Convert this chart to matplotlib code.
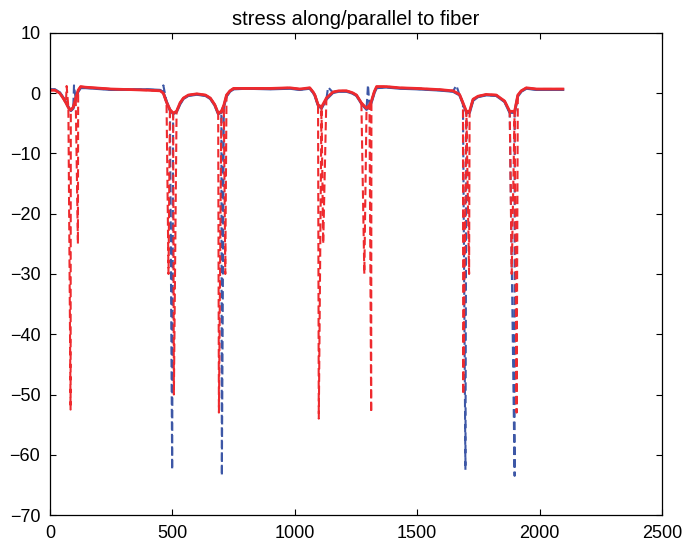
import numpy as np
import matplotlib
matplotlib.use("Agg")
import matplotlib.pyplot as plt

# solid curves (shared x positions)
x_solid = [0, 20, 40, 55, 65, 75, 85, 95, 105, 115, 125, 145, 180, 250, 330, 400,
           450, 463, 476, 490, 503, 517, 531, 545, 565, 600, 635, 655, 673, 687,
           700, 710, 721, 735, 750, 800, 900, 980, 1020, 1061, 1075, 1082, 1095,
           1109, 1129, 1156, 1180, 1211, 1235, 1252, 1272, 1293, 1305, 1313, 1325,
           1334, 1374, 1429, 1500, 1592, 1646, 1673, 1687, 1701, 1714, 1728, 1748,
           1782, 1823, 1857, 1878, 1898, 1911, 1925, 1946, 1987, 2040, 2095]
red_solid = [0.5, 0.5, 0.0, -0.9, -1.6, -2.4, -2.8, -2.3, -0.8, 0.5, 1.1, 1.0, 0.9,
             0.7, 0.6, 0.5, 0.4, 0.0, -1.5, -2.7, -3.3, -3.0, -1.6, -0.8, -0.3,
             -0.1, -0.3, -0.8, -1.9, -3.3, -3.0, -2.0, -0.3, 0.4, 0.8, 0.8, 0.8,
             0.9, 0.7, 0.9, 0.2, -0.3, -1.9, -2.3, -0.8, 0.2, 0.4, 0.4, 0.1, -0.3,
             -1.6, -2.5, -2.0, -1.3, 0.3, 1.1, 1.1, 0.9, 0.8, 0.6, 0.4, -0.2, -1.6,
             -3.0, -3.0, -1.0, -0.5, -0.2, -0.3, -1.3, -3.0, -3.0, -0.3, 0.4, 0.9,
             0.7, 0.7, 0.7]
blue_solid = [0.6, 0.6, 0.1, -0.8, -1.5, -2.3, -2.9, -2.5, -1.0, 0.3, 0.9, 0.9, 0.8,
              0.6, 0.6, 0.6, 0.5, 0.1, -1.4, -2.8, -3.4, -3.1, -1.8, -0.9, -0.4,
              -0.2, -0.4, -0.9, -2.0, -3.4, -3.2, -2.2, -0.5, 0.3, 0.7, 0.8, 0.7,
              0.8, 0.6, 0.8, 0.1, -0.4, -2.0, -2.5, -1.0, 0.1, 0.3, 0.3, 0.0, -0.4,
              -1.7, -2.7, -2.2, -1.5, 0.1, 0.9, 1.0, 0.8, 0.7, 0.5, 0.3, -0.3, -1.7,
              -3.2, -3.2, -1.2, -0.6, -0.3, -0.4, -1.4, -3.2, -3.2, -0.5, 0.3, 0.8,
              0.6, 0.6, 0.6]

# extra points on the dashed curves (interface spikes and bumps)
red_spike_x = [68, 84, 114, 484, 506, 690, 716, 1098, 1116, 1284, 1312, 1688, 1712,
               1886, 1906]
red_spike_y = [1.2, -52.5, -25.0, -30.0, -50.0, -53.0, -30.0, -54.0, -25.0, -30.0,
               -53.0, -50.0, -30.0, -30.0, -53.0]
blue_spike_x = [98, 463, 499, 702, 1136, 1299, 1660, 1697, 1898]
blue_spike_y = [1.3, 1.3, -62.5, -63.5, 1.0, 1.4, 1.3, -62.5, -63.5]

RED = "#ee2a2e"
BLUE = "#3d57a6"


def merge(xs, ys, ex, ey):
    pts = sorted(zip(list(xs) + list(ex), list(ys) + list(ey)))
    return [p[0] for p in pts], [p[1] for p in pts]


plt.rcParams["font.family"] = ["Liberation Sans", "DejaVu Sans"]
plt.rcParams["font.size"] = 13

fig = plt.figure(figsize=(6.86, 5.45), dpi=100)
ax = fig.add_axes([0.0729, 0.055, 0.8921, 0.8845])

xr, yr = merge(x_solid, red_solid, red_spike_x, red_spike_y)
xb, yb = merge(x_solid, blue_solid, blue_spike_x, blue_spike_y)

ax.plot(x_solid, blue_solid, color=BLUE, lw=2.0)
ax.plot(xb, yb, color=BLUE, lw=1.5, ls=(0, (4, 2)))
ax.plot(x_solid, red_solid, color=RED, lw=2.0)
ax.plot(xr, yr, color=RED, lw=1.5, ls=(0, (4, 2)))

ax.set_xlim(0, 2500)
ax.set_ylim(-70, 10)
ax.set_xticks(np.arange(0, 2501, 500))
ax.set_yticks(np.arange(-70, 11, 10))
ax.tick_params(direction="in", top=True, right=True, length=4, width=0.8, pad=7)
for s in ax.spines.values():
    s.set_linewidth(0.9)
ax.set_title("stress along/parallel to fiber", fontsize=14.5, pad=6)

fig.savefig("out.png", dpi=100)
